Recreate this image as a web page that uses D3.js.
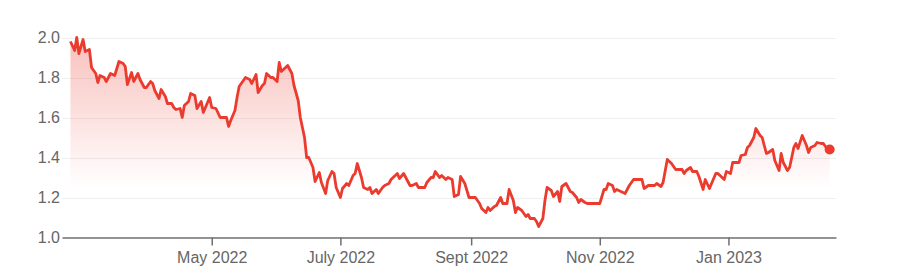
<!DOCTYPE html>
<html>
  <head>
    <meta charset='utf-8'>
    <title></title>
    <script src='https://d3js.org/d3.v7.min.js'></script>
    <style>
      body {
        margin: 0;
        background: #fff;
      }
      svg {
        display: block;
      }
      .axis text {
        font-family: 'Liberation Sans', Arial, sans-serif;
        font-size: 16px;
        fill: #666;
      }
      .grid line {
        stroke: #efefef;
        stroke-width: 1px;
        shape-rendering: crispEdges;
      }
      .grid path {
        display: none;
      }
      .axis--x path,
      .axis--x line {
        stroke: #6f6f6f;
        stroke-width: 1.5px;
      }
      .axis--y path {
        display: none;
      }
      .line {
        fill: none;
        stroke: #ea3b2e;
        stroke-width: 2.8px;
        stroke-linejoin: round;
      }
    </style>
  </head>
  <body>
  <script type='text/javascript'>

    var dates = [
      '2022-02-23','2022-02-25','2022-02-26','2022-02-27','2022-03-01','2022-03-02','2022-03-04','2022-03-05','2022-03-07','2022-03-08',
      '2022-03-09','2022-03-11','2022-03-12','2022-03-14','2022-03-16','2022-03-17','2022-03-18','2022-03-20','2022-03-21','2022-03-22',
      '2022-03-24','2022-03-25','2022-03-27','2022-03-28','2022-03-30','2022-03-31','2022-04-02','2022-04-03','2022-04-04','2022-04-06',
      '2022-04-07','2022-04-09','2022-04-10','2022-04-12','2022-04-13','2022-04-14','2022-04-16','2022-04-17','2022-04-18','2022-04-20',
      '2022-04-21','2022-04-23','2022-04-24','2022-04-26','2022-04-27','2022-04-28','2022-04-30','2022-05-01','2022-05-03','2022-05-05',
      '2022-05-06','2022-05-08','2022-05-09','2022-05-10','2022-05-12','2022-05-13','2022-05-14','2022-05-16','2022-05-17','2022-05-19',
      '2022-05-20','2022-05-22','2022-05-23','2022-05-25','2022-05-26','2022-05-27','2022-05-29','2022-05-30','2022-06-01','2022-06-02',
      '2022-06-03','2022-06-05','2022-06-06','2022-06-08','2022-06-09','2022-06-11','2022-06-12','2022-06-14','2022-06-15','2022-06-16',
      '2022-06-18','2022-06-19','2022-06-21','2022-06-22','2022-06-24','2022-06-25','2022-06-27','2022-06-28','2022-06-29','2022-07-01',
      '2022-07-02','2022-07-04','2022-07-05','2022-07-07','2022-07-08','2022-07-09','2022-07-11','2022-07-12','2022-07-14','2022-07-15',
      '2022-07-16','2022-07-18','2022-07-19','2022-07-21','2022-07-22','2022-07-24','2022-07-25','2022-07-27','2022-07-28','2022-07-29',
      '2022-07-31','2022-08-01','2022-08-03','2022-08-04','2022-08-06','2022-08-07','2022-08-08','2022-08-10','2022-08-11','2022-08-13',
      '2022-08-14','2022-08-15','2022-08-17','2022-08-18','2022-08-20','2022-08-21','2022-08-23','2022-08-24','2022-08-26','2022-08-27',
      '2022-08-29','2022-08-30','2022-08-31','2022-09-02','2022-09-03','2022-09-05','2022-09-06','2022-09-08','2022-09-09','2022-09-10',
      '2022-09-12','2022-09-13','2022-09-15','2022-09-16','2022-09-18','2022-09-19','2022-09-21','2022-09-22','2022-09-23','2022-09-25',
      '2022-09-27','2022-09-28','2022-09-29','2022-10-01','2022-10-02','2022-10-03','2022-10-05','2022-10-06','2022-10-07','2022-10-09',
      '2022-10-10','2022-10-12','2022-10-13','2022-10-14','2022-10-16','2022-10-18','2022-10-19','2022-10-21','2022-10-22','2022-10-23',
      '2022-10-25','2022-10-26','2022-10-28','2022-10-29','2022-10-31','2022-11-01','2022-11-03','2022-11-04','2022-11-05','2022-11-07',
      '2022-11-08','2022-11-09','2022-11-11','2022-11-13','2022-11-14','2022-11-15','2022-11-17','2022-11-18','2022-11-20','2022-11-21',
      '2022-11-22','2022-11-24','2022-11-26','2022-11-27','2022-11-28','2022-11-30','2022-12-01','2022-12-03','2022-12-04','2022-12-05',
      '2022-12-07','2022-12-09','2022-12-10','2022-12-11','2022-12-12','2022-12-14','2022-12-15','2022-12-17','2022-12-18','2022-12-20',
      '2022-12-21','2022-12-23','2022-12-24','2022-12-26','2022-12-27','2022-12-29','2022-12-30','2022-12-31','2023-01-02','2023-01-03',
      '2023-01-05','2023-01-06','2023-01-07','2023-01-09','2023-01-10','2023-01-11','2023-01-13','2023-01-14','2023-01-16','2023-01-17',
      '2023-01-19','2023-01-20','2023-01-22','2023-01-23','2023-01-25','2023-01-26','2023-01-27','2023-01-29','2023-01-30','2023-02-01',
      '2023-02-02','2023-02-03','2023-02-05','2023-02-07','2023-02-08','2023-02-09','2023-02-11','2023-02-12','2023-02-14','2023-02-15',
      '2023-02-17','2023-02-18'
    ];

    var prices = [
      1.98,1.935,2.00,1.92,1.99,1.93,1.94,1.85,1.82,1.775,
      1.81,1.80,1.78,1.82,1.81,1.845,1.88,1.87,1.855,1.765,
      1.825,1.78,1.82,1.79,1.75,1.75,1.78,1.77,1.735,1.695,
      1.74,1.705,1.67,1.67,1.65,1.64,1.645,1.60,1.66,1.68,
      1.72,1.71,1.645,1.68,1.625,1.65,1.70,1.65,1.645,1.60,
      1.60,1.60,1.555,1.585,1.635,1.70,1.755,1.785,1.80,1.79,
      1.77,1.815,1.725,1.76,1.77,1.82,1.80,1.80,1.78,1.875,
      1.83,1.85,1.86,1.82,1.76,1.685,1.60,1.50,1.40,1.40,
      1.35,1.28,1.325,1.275,1.22,1.285,1.33,1.32,1.25,1.20,
      1.245,1.27,1.26,1.31,1.32,1.37,1.30,1.25,1.24,1.25,
      1.22,1.24,1.22,1.25,1.26,1.27,1.29,1.31,1.32,1.295,
      1.32,1.30,1.26,1.26,1.27,1.25,1.25,1.25,1.275,1.30,
      1.30,1.33,1.30,1.31,1.29,1.30,1.29,1.205,1.215,1.305,
      1.27,1.235,1.20,1.20,1.20,1.17,1.145,1.125,1.15,1.135,
      1.155,1.16,1.20,1.17,1.17,1.24,1.185,1.125,1.15,1.135,
      1.105,1.115,1.095,1.095,1.08,1.055,1.095,1.185,1.25,1.235,
      1.205,1.23,1.18,1.255,1.27,1.23,1.225,1.20,1.175,1.19,
      1.175,1.17,1.17,1.17,1.17,1.17,1.24,1.24,1.27,1.26,
      1.23,1.24,1.23,1.22,1.24,1.26,1.29,1.29,1.29,1.29,
      1.245,1.26,1.26,1.26,1.27,1.255,1.275,1.39,1.38,1.37,
      1.34,1.34,1.34,1.32,1.335,1.35,1.33,1.33,1.305,1.24,
      1.29,1.245,1.27,1.32,1.32,1.30,1.29,1.33,1.32,1.375,
      1.375,1.375,1.41,1.415,1.45,1.46,1.50,1.545,1.51,1.50,
      1.42,1.425,1.44,1.385,1.335,1.42,1.375,1.335,1.35,1.45,
      1.47,1.445,1.51,1.46,1.425,1.45,1.46,1.475,1.47,1.47,
      1.44,1.44
    ];

    var tickDates = ['2022-05-01', '2022-07-01', '2022-09-01', '2022-11-01', '2023-01-01'];
    var tickLabels = ['May 2022', 'July 2022', 'Sept 2022', 'Nov 2022', 'Jan 2023'];
    var yTicks = [1.0, 1.2, 1.4, 1.6, 1.8, 2.0];

    var width = 903;
    var height = 280;
    var red = '#ea3b2e';

    var parse = d3.timeParse('%Y-%m-%d');
    var data = dates.map(function(d, i) { return { date: parse(d), value: prices[i] }; });

    var x = d3.scaleTime()
      .domain([parse('2022-02-19'), parse('2023-02-21')])
      .range([62, 836]);

    var y = d3.scaleLinear()
      .domain([1, 2])
      .range([237.5, 37.5]);

    var svg = d3.select('body')
      .append('svg')
      .attr('width', width)
      .attr('height', height);

    var grad = svg.append('defs')
      .append('linearGradient')
      .attr('id', 'fade')
      .attr('gradientUnits', 'userSpaceOnUse')
      .attr('x1', 0).attr('x2', 0)
      .attr('y1', y(2)).attr('y2', y(1.25));
    grad.append('stop').attr('offset', 0).attr('stop-color', red).attr('stop-opacity', 0.32);
    grad.append('stop').attr('offset', 1).attr('stop-color', red).attr('stop-opacity', 0);

    // gridlines
    svg.append('g')
      .attr('class', 'grid')
      .attr('transform', 'translate(62,0)')
      .call(d3.axisLeft(y).tickValues(yTicks.slice(1)).tickSize(-774).tickFormat(''));

    var area = d3.area()
      .x(function(d) { return x(d.date); })
      .y0(y(1))
      .y1(function(d) { return y(d.value); });

    var line = d3.line()
      .x(function(d) { return x(d.date); })
      .y(function(d) { return y(d.value); });

    svg.append('path')
      .datum(data)
      .attr('fill', 'url(#fade)')
      .attr('d', area);

    svg.append('path')
      .datum(data)
      .attr('class', 'line')
      .attr('d', line);

    var last = data[data.length - 1];
    svg.append('circle')
      .attr('cx', x(last.date))
      .attr('cy', y(last.value))
      .attr('r', 5)
      .attr('fill', red);

    // x axis
    svg.append('g')
      .attr('class', 'axis axis--x')
      .attr('transform', 'translate(0,' + y(1) + ')')
      .call(d3.axisBottom(x)
        .tickValues(tickDates.map(parse))
        .tickSize(8)
        .tickSizeOuter(0)
        .tickPadding(6)
        .tickFormat(function(d, i) { return tickLabels[i]; }));

    // y axis labels
    svg.append('g')
      .attr('class', 'axis axis--y')
      .attr('transform', 'translate(62,0)')
      .call(d3.axisLeft(y).tickValues(yTicks).tickSize(0).tickPadding(2).tickFormat(d3.format('.1f')));

  </script>
  </body>
</html>
